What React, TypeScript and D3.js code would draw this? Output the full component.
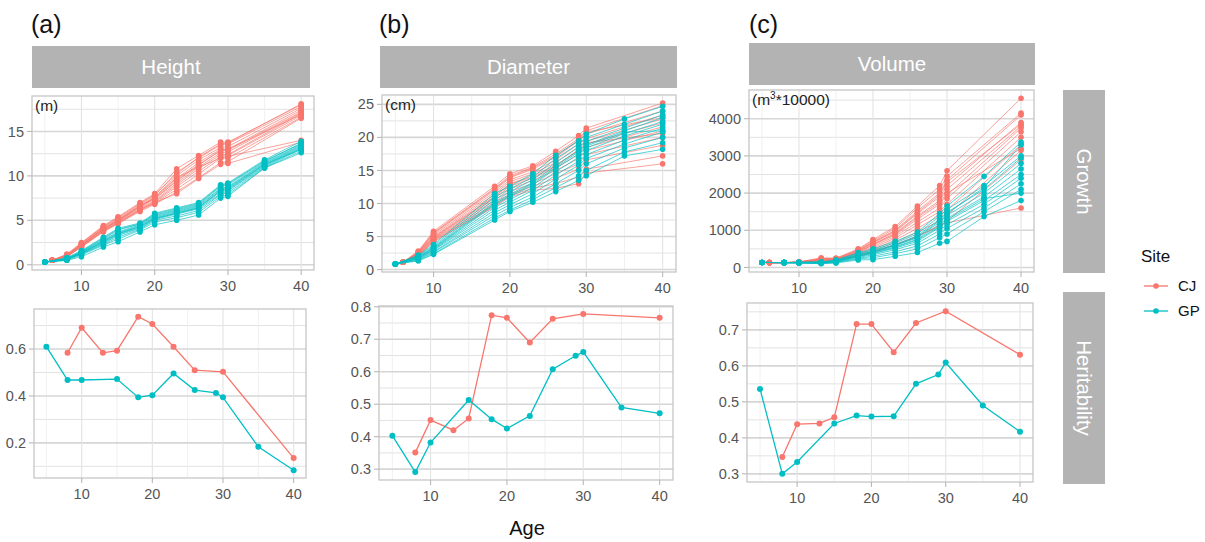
import * as d3 from 'd3';

const CJ_COLOR = '#F8766D';
const GP_COLOR = '#00BFC4';
const FONT = '"Liberation Sans", Arial, Helvetica, sans-serif';

// ---- Growth: one row per family, values at the ages listed above them ----
const heightAgesCJ = [6, 8, 10, 13, 15, 18, 20, 23, 26, 29, 30, 40];
const heightCJ = [
  [0.5, 1.2, 2.5, 4.4, 5.4, 7.0, 8.0, 10.8, 12.3, 13.8, 13.8, 18.0],
  [0.5, 1.1, 2.4, 4.3, 5.2, 6.8, 7.8, 10.4, 12.0, 13.5, 13.6, 17.8],
  [0.5, 1.1, 2.3, 4.2, 5.1, 6.7, 7.6, 10.0, 11.8, 13.2, 13.3, 17.6],
  [0.5, 1.0, 2.3, 4.1, 5.0, 6.6, 7.5, 9.7, 11.5, 13.0, 13.0, 17.4],
  [0.5, 1.0, 2.2, 4.0, 4.9, 6.5, 7.4, 9.5, 11.3, 12.8, 12.9, 17.2],
  [0.5, 1.0, 2.2, 4.0, 4.9, 6.4, 7.2, 9.2, 11.0, 12.6, 12.7, 17.1],
  [0.5, 0.9, 2.1, 3.9, 4.8, 6.3, 7.1, 9.0, 10.8, 12.4, 12.4, 17.0],
  [0.5, 0.9, 2.1, 3.8, 4.7, 6.2, 7.0, 8.8, 10.5, 12.2, 12.3, 16.8],
  [0.5, 1.0, 2.0, 3.8, 4.7, 6.1, 6.9, 8.5, 10.2, 12.0, 12.0, 16.6],
  [0.5, 0.9, 2.0, 3.7, 4.6, 6.0, 6.8, 8.2, 9.8, 11.5, 11.6, 16.5],
  [0.5, 1.0, 2.2, 4.0, 5.0, 6.6, 7.6, 9.8, 11.0, 12.0, 12.2, 14.0],
  [0.5, 0.9, 2.0, 3.8, 4.7, 6.2, 7.0, 8.0, 9.7, 11.3, 11.4, 13.8],
  [0.5, 1.1, 2.4, 4.3, 5.3, 6.9, 7.9, 10.2, 12.1, 13.6, 13.7, 18.1],
  [0.5, 1.0, 2.2, 4.1, 5.0, 6.6, 7.4, 9.4, 11.2, 12.9, 13.0, 16.9],
];
const heightAgesGP = [5, 8, 10, 13, 15, 18, 20, 23, 26, 29, 30, 35, 40];
const heightGP = [
  [0.3, 0.8, 1.6, 3.1, 4.1, 4.7, 5.8, 6.4, 7.0, 9.0, 9.2, 11.8, 13.9],
  [0.3, 0.7, 1.5, 2.9, 3.9, 4.6, 5.6, 6.2, 6.8, 8.8, 9.0, 11.6, 13.7],
  [0.3, 0.7, 1.4, 2.8, 3.7, 4.5, 5.5, 6.1, 6.7, 8.6, 8.8, 11.5, 13.5],
  [0.3, 0.7, 1.4, 2.7, 3.6, 4.4, 5.4, 6.0, 6.6, 8.5, 8.7, 11.4, 13.4],
  [0.3, 0.6, 1.3, 2.6, 3.5, 4.3, 5.3, 5.9, 6.5, 8.3, 8.5, 11.3, 13.3],
  [0.3, 0.6, 1.3, 2.5, 3.4, 4.2, 5.2, 5.8, 6.4, 8.2, 8.4, 11.2, 13.2],
  [0.3, 0.6, 1.2, 2.4, 3.3, 4.1, 5.1, 5.7, 6.3, 8.0, 8.3, 11.1, 13.1],
  [0.3, 0.6, 1.2, 2.3, 3.1, 4.0, 5.0, 5.5, 6.1, 7.9, 8.1, 11.0, 13.0],
  [0.3, 0.5, 1.1, 2.2, 2.9, 3.9, 4.8, 5.3, 5.9, 7.7, 7.9, 10.9, 12.8],
  [0.3, 0.5, 0.9, 2.0, 2.6, 3.7, 4.5, 5.0, 5.6, 7.5, 7.7, 10.9, 12.6],
  [0.3, 0.7, 1.5, 3.0, 4.0, 4.6, 5.7, 6.3, 6.9, 8.9, 9.1, 11.7, 13.6],
  [0.3, 0.6, 1.3, 2.6, 3.5, 4.3, 5.2, 5.8, 6.4, 8.4, 8.6, 11.3, 13.0],
];

const diamAgesCJ = [6, 8, 10, 18, 20, 23, 26, 29, 30, 40];
const diamCJ = [
  [1.1, 2.8, 5.8, 12.6, 14.5, 15.7, 17.9, 20.3, 21.4, 25.2],
  [1.1, 2.7, 5.6, 12.3, 14.2, 15.5, 17.5, 19.8, 21.0, 24.8],
  [1.1, 2.6, 5.4, 12.0, 13.9, 15.2, 17.0, 19.5, 20.5, 24.0],
  [1.1, 2.5, 5.2, 11.7, 13.6, 14.8, 16.6, 19.0, 19.8, 23.4],
  [1.1, 2.5, 5.0, 11.4, 13.3, 14.5, 16.2, 18.6, 19.4, 22.8],
  [1.1, 2.4, 4.9, 11.1, 13.0, 14.2, 15.8, 18.0, 19.0, 22.2],
  [1.1, 2.3, 4.7, 10.8, 12.6, 13.8, 15.4, 17.4, 18.5, 21.6],
  [1.1, 2.3, 4.6, 10.5, 12.2, 13.5, 15.0, 16.8, 18.0, 21.0],
  [1.1, 2.2, 4.5, 10.2, 11.8, 13.0, 14.5, 16.0, 17.4, 20.0],
  [1.1, 2.1, 4.4, 9.9, 11.4, 12.6, 13.8, 15.2, 16.6, 18.8],
  [1.1, 2.1, 4.3, 9.7, 11.2, 12.3, 13.0, 14.0, 15.2, 17.2],
  [1.1, 2.0, 4.2, 9.5, 11.0, 12.0, 12.3, 13.0, 14.6, 16.0],
  [1.1, 2.6, 5.5, 12.2, 14.0, 15.4, 17.2, 19.6, 20.8, 23.0],
  [1.1, 2.4, 4.8, 11.0, 12.9, 14.0, 15.6, 18.2, 19.2, 20.6],
];
const diamAgesGP = [5, 8, 10, 18, 20, 23, 26, 29, 30, 35, 40];
const diamGP = [
  [0.85, 2.2, 3.8, 11.5, 12.6, 14.5, 17.3, 19.5, 20.5, 22.8, 24.7],
  [0.85, 2.1, 3.6, 11.0, 12.2, 14.0, 16.8, 19.0, 20.0, 22.0, 24.0],
  [0.85, 2.0, 3.4, 10.6, 11.8, 13.6, 16.2, 18.5, 19.4, 21.4, 23.4],
  [0.85, 1.9, 3.3, 10.2, 11.4, 13.2, 15.8, 18.0, 18.9, 21.0, 23.0],
  [0.85, 1.8, 3.1, 9.8, 11.0, 12.8, 15.3, 17.5, 18.4, 20.6, 22.4],
  [0.85, 1.7, 3.0, 9.4, 10.6, 12.4, 14.8, 17.0, 18.0, 20.2, 22.0],
  [0.85, 1.7, 2.9, 9.0, 10.2, 12.0, 14.3, 16.4, 17.4, 19.6, 21.4],
  [0.85, 1.6, 2.7, 8.6, 9.8, 11.5, 13.7, 15.8, 16.8, 19.0, 20.8],
  [0.85, 1.5, 2.6, 8.2, 9.4, 11.0, 13.0, 15.0, 16.0, 18.4, 20.0],
  [0.85, 1.4, 2.4, 7.8, 9.0, 10.6, 12.4, 14.2, 15.0, 17.8, 19.2],
  [0.85, 1.3, 2.3, 7.5, 8.8, 10.2, 11.8, 13.5, 14.2, 17.2, 18.2],
  [0.85, 1.9, 3.2, 10.0, 11.2, 13.0, 15.5, 17.8, 18.7, 20.8, 21.0],
];

const volAgesCJ = [6, 8, 10, 13, 15, 18, 20, 23, 26, 29, 30, 40];
const volCJ = [
  [130, 130, 150, 260, 250, 500, 750, 1100, 1650, 2200, 2600, 4550],
  [130, 130, 145, 240, 240, 480, 720, 1050, 1600, 2100, 2450, 4150],
  [130, 130, 145, 230, 230, 460, 690, 1000, 1520, 2000, 2350, 4100],
  [130, 130, 140, 220, 220, 440, 660, 960, 1450, 1900, 2200, 3900],
  [130, 130, 140, 210, 215, 420, 630, 920, 1380, 1800, 2100, 3800],
  [130, 130, 140, 200, 210, 400, 600, 880, 1300, 1700, 1950, 3750],
  [130, 130, 135, 190, 205, 380, 560, 840, 1220, 1600, 1850, 3650],
  [130, 130, 135, 180, 200, 360, 520, 790, 1150, 1500, 1700, 3500],
  [130, 130, 135, 170, 190, 340, 480, 740, 1050, 1400, 1550, 3300],
  [130, 130, 130, 160, 185, 320, 440, 680, 950, 1250, 1400, 3150],
  [130, 130, 130, 150, 180, 300, 400, 600, 850, 1100, 1250, 2900],
  [130, 130, 130, 160, 180, 310, 420, 620, 820, 1150, 1200, 1600],
  [130, 130, 140, 200, 210, 410, 620, 900, 1350, 1750, 2000, 3200],
  [130, 130, 145, 220, 225, 450, 680, 980, 1480, 1950, 2300, 3850],
];
const volAgesGP = [5, 8, 10, 13, 15, 18, 20, 23, 26, 29, 30, 35, 40];
const volGP = [
  [135, 130, 140, 150, 200, 400, 500, 700, 950, 1450, 1650, 2450, 3370],
  [135, 130, 135, 145, 190, 380, 470, 660, 900, 1380, 1560, 2200, 3000],
  [135, 130, 135, 140, 180, 350, 440, 620, 850, 1300, 1480, 2100, 2950],
  [135, 130, 130, 135, 170, 330, 420, 590, 800, 1220, 1400, 2000, 2800],
  [135, 130, 130, 130, 165, 310, 400, 560, 760, 1150, 1320, 1900, 2650],
  [135, 130, 130, 125, 160, 290, 370, 520, 700, 1080, 1240, 1800, 2500],
  [135, 130, 125, 120, 150, 270, 340, 480, 650, 1000, 1150, 1700, 2400],
  [135, 130, 125, 115, 140, 250, 300, 420, 580, 900, 1050, 1600, 2250],
  [135, 130, 120, 110, 130, 230, 260, 370, 500, 800, 900, 1500, 2100],
  [135, 130, 120, 100, 120, 200, 210, 300, 400, 650, 700, 1370, 1800],
  [135, 130, 130, 130, 160, 300, 380, 540, 740, 1100, 1280, 1850, 2000],
  [135, 130, 135, 140, 175, 340, 430, 600, 820, 1260, 1450, 2150, 3300],
];

// ---- Heritability ----
const herHeightAgesCJ = [8, 10, 13, 15, 18, 20, 23, 26, 30, 40];
const herHeightCJ = [0.584, 0.691, 0.584, 0.593, 0.738, 0.707, 0.61, 0.51, 0.503, 0.135];
const herHeightAgesGP = [5, 8, 10, 15, 18, 20, 23, 26, 29, 30, 35, 40];
const herHeightGP = [0.61, 0.468, 0.468, 0.472, 0.394, 0.403, 0.496, 0.425, 0.413, 0.394, 0.183, 0.083];

const herDiamAgesCJ = [8, 10, 13, 15, 18, 20, 23, 26, 30, 40];
const herDiamCJ = [0.351, 0.451, 0.42, 0.456, 0.774, 0.766, 0.69, 0.763, 0.778, 0.766];
const herDiamAgesGP = [5, 8, 10, 15, 18, 20, 23, 26, 29, 30, 35, 40];
const herDiamGP = [0.403, 0.291, 0.382, 0.513, 0.454, 0.425, 0.464, 0.608, 0.649, 0.661, 0.49, 0.472];

const herVolAgesCJ = [8, 10, 13, 15, 18, 20, 23, 26, 30, 40];
const herVolCJ = [0.347, 0.438, 0.44, 0.457, 0.716, 0.716, 0.638, 0.719, 0.752, 0.631];
const herVolAgesGP = [5, 8, 10, 15, 18, 20, 23, 26, 29, 30, 35, 40];
const herVolGP = [0.536, 0.3, 0.333, 0.44, 0.462, 0.459, 0.46, 0.55, 0.576, 0.609, 0.49, 0.417];

const ageTicks = [10, 20, 30, 40];
const heightTicks = [0, 5, 10, 15];
const diamTicks = [0, 5, 10, 15, 20, 25];
const volTicks = [0, 1000, 2000, 3000, 4000];
const herHeightTicks = [0.2, 0.4, 0.6];
const herDiamTicks = [0.3, 0.4, 0.5, 0.6, 0.7, 0.8];
const herVolTicks = [0.3, 0.4, 0.5, 0.6, 0.7];

type Box = { left: number; right: number; top: number; bottom: number };
type Group = { color: string; ages: number[]; rows: number[][] };

// ggplot style 5% expansion
const expand = (vals: number[]): [number, number] => {
  const [lo, hi] = d3.extent(vals) as [number, number];
  const pad = (hi - lo) * 0.05;
  return [lo - pad, hi + pad];
};

const minorOf = (major: number[], dom: [number, number]) => {
  const step = major[1] - major[0];
  const out: number[] = [];
  for (let v = major[0] - step / 2; v <= major[major.length - 1] + step / 2 + 1e-9; v += step) {
    if (v >= dom[0] && v <= dom[1]) out.push(v);
  }
  return out;
};

function Panel({
  box,
  groups,
  yTicks,
  fmt,
  growth,
  unit,
}: {
  box: Box;
  groups: Group[];
  yTicks: number[];
  fmt: (v: number) => string;
  growth: boolean;
  unit?: React.ReactNode;
}) {
  const xDom = expand([5, 40]);
  const x = d3.scaleLinear().domain(xDom).range([box.left, box.right]);
  const yDom = expand(groups.flatMap((g) => g.rows.flat()));
  const y = d3.scaleLinear().domain(yDom).range([box.bottom, box.top]);
  const line = d3
    .line<[number, number]>()
    .x((d) => x(d[0]))
    .y((d) => y(d[1]));
  const yMinor = minorOf(yTicks, yDom);
  const xMinor = minorOf(ageTicks, xDom);
  const tickCol = '#b8b8b8';

  return (
    <g>
      <rect x={box.left} y={box.top} width={box.right - box.left} height={box.bottom - box.top} fill="white" />
      {yMinor.map((v) => (
        <line key={'ym' + v} x1={box.left} x2={box.right} y1={y(v)} y2={y(v)} stroke="#e2e2e2" strokeWidth={1} />
      ))}
      {xMinor.map((v) => (
        <line key={'xm' + v} y1={box.top} y2={box.bottom} x1={x(v)} x2={x(v)} stroke="#ececec" strokeWidth={0.8} />
      ))}
      {yTicks.map((v) => (
        <line key={'yM' + v} x1={box.left} x2={box.right} y1={y(v)} y2={y(v)} stroke="#d6d6d6" strokeWidth={1.6} />
      ))}
      {ageTicks.map((v) => (
        <line key={'xM' + v} y1={box.top} y2={box.bottom} x1={x(v)} x2={x(v)} stroke="#e3e3e3" strokeWidth={1.1} />
      ))}
      {groups.map((g, gi) => (
        <g key={gi}>
          {g.rows.map((r, ri) => (
            <path
              key={ri}
              d={line(g.ages.map((a, i) => [a, r[i]] as [number, number])) || ''}
              fill="none"
              stroke={g.color}
              strokeWidth={growth ? 0.9 : 1.3}
              strokeOpacity={growth ? 0.75 : 1}
            />
          ))}
          {g.rows.map((r, ri) =>
            g.ages.map((a, i) => (
              <circle key={ri + '-' + i} cx={x(a)} cy={y(r[i])} r={growth ? 2.8 : 3} fill={g.color} />
            ))
          )}
        </g>
      ))}
      <rect
        x={box.left}
        y={box.top}
        width={box.right - box.left}
        height={box.bottom - box.top}
        fill="none"
        stroke="#c6c6c6"
        strokeWidth={1.3}
      />
      {yTicks.map((v) => (
        <g key={'yt' + v}>
          <line x1={box.left - 5} x2={box.left} y1={y(v)} y2={y(v)} stroke={tickCol} strokeWidth={1.1} />
          <text x={box.left - 8} y={y(v)} dy="0.35em" textAnchor="end" fontSize={14.5} fill="#555" fontFamily={FONT}>
            {fmt(v)}
          </text>
        </g>
      ))}
      {ageTicks.map((v) => (
        <g key={'xt' + v}>
          <line x1={x(v)} x2={x(v)} y1={box.bottom} y2={box.bottom + 5} stroke={tickCol} strokeWidth={1.1} />
          <text x={x(v)} y={box.bottom + 21} textAnchor="middle" fontSize={14.5} fill="#555" fontFamily={FONT}>
            {v}
          </text>
        </g>
      ))}
      {unit && (
        <text x={box.left + 3} y={box.top + 15} fontSize={15.5} fill="#222" fontFamily={FONT}>
          {unit}
        </text>
      )}
    </g>
  );
}

function Strip({ x0, x1, y0, y1, label }: { x0: number; x1: number; y0: number; y1: number; label: string }) {
  return (
    <g>
      <rect x={x0} y={y0} width={x1 - x0} height={y1 - y0} fill="#b3b3b3" />
      <text x={(x0 + x1) / 2} y={(y0 + y1) / 2} dy="0.36em" textAnchor="middle" fontSize={20.5} fill="white" fontFamily={FONT}>
        {label}
      </text>
    </g>
  );
}

function VStrip({ x0, x1, y0, y1, label }: { x0: number; x1: number; y0: number; y1: number; label: string }) {
  const cx = (x0 + x1) / 2;
  const cy = (y0 + y1) / 2;
  return (
    <g>
      <rect x={x0} y={y0} width={x1 - x0} height={y1 - y0} fill="#b3b3b3" />
      <text
        x={cx}
        y={cy}
        dy="0.36em"
        textAnchor="middle"
        fontSize={20.5}
        fill="white"
        fontFamily={FONT}
        transform={`rotate(90 ${cx} ${cy})`}
      >
        {label}
      </text>
    </g>
  );
}

const fmtInt = (v: number) => String(v);
const fmt1 = (v: number) => v.toFixed(1);

export default function App() {
  const cj = (ages: number[], rows: number[][]): Group => ({ color: CJ_COLOR, ages, rows });
  const gp = (ages: number[], rows: number[][]): Group => ({ color: GP_COLOR, ages, rows });

  return (
    <svg width={1205} height={542} style={{ position: 'absolute', left: 0, top: 0, background: 'white' }}>
      <rect width={1205} height={542} fill="white" />
      {/* panel letters */}
      <text x={31} y={33} fontSize={25} fill="#111" fontFamily={FONT}>(a)</text>
      <text x={379} y={33} fontSize={25} fill="#111" fontFamily={FONT}>(b)</text>
      <text x={749} y={33} fontSize={25} fill="#111" fontFamily={FONT}>(c)</text>

      <Strip x0={32} x1={310} y0={46} y1={88} label="Height" />
      <Strip x0={380} x1={677} y0={46} y1={88} label="Diameter" />
      <Strip x0={749} x1={1035} y0={43} y1={85} label="Volume" />

      <Panel
        box={{ left: 32, right: 314, top: 96, bottom: 270 }}
        groups={[cj(heightAgesCJ, heightCJ), gp(heightAgesGP, heightGP)]}
        yTicks={heightTicks}
        fmt={fmtInt}
        growth
        unit="(m)"
      />
      <Panel
        box={{ left: 382, right: 676, top: 95, bottom: 272 }}
        groups={[cj(diamAgesCJ, diamCJ), gp(diamAgesGP, diamGP)]}
        yTicks={diamTicks}
        fmt={fmtInt}
        growth
        unit="(cm)"
      />
      <Panel
        box={{ left: 749, right: 1034, top: 90, bottom: 272 }}
        groups={[cj(volAgesCJ, volCJ), gp(volAgesGP, volGP)]}
        yTicks={volTicks}
        fmt={fmtInt}
        growth
        unit={
          <>
            (m
            <tspan dy={-6} fontSize={10}>3</tspan>
            <tspan dy={6}>*10000)</tspan>
          </>
        }
      />

      <Panel
        box={{ left: 34, right: 306, top: 309, bottom: 478 }}
        groups={[cj(herHeightAgesCJ, [herHeightCJ]), gp(herHeightAgesGP, [herHeightGP])]}
        yTicks={herHeightTicks}
        fmt={fmt1}
        growth={false}
      />
      <Panel
        box={{ left: 379, right: 673, top: 306, bottom: 480 }}
        groups={[cj(herDiamAgesCJ, [herDiamCJ]), gp(herDiamAgesGP, [herDiamGP])]}
        yTicks={herDiamTicks}
        fmt={fmt1}
        growth={false}
      />
      <Panel
        box={{ left: 747, right: 1033, top: 303, bottom: 482 }}
        groups={[cj(herVolAgesCJ, [herVolCJ]), gp(herVolAgesGP, [herVolGP])]}
        yTicks={herVolTicks}
        fmt={fmt1}
        growth={false}
      />

      <VStrip x0={1063} x1={1105} y0={90} y1={273} label="Growth" />
      <VStrip x0={1063} x1={1105} y0={292} y1={484} label="Heritability" />

      {/* legend */}
      <text x={1141} y={262} fontSize={17} fill="#111" fontFamily={FONT}>Site</text>
      {[
        { label: 'CJ', color: CJ_COLOR, y: 286 },
        { label: 'GP', color: GP_COLOR, y: 311 },
      ].map((d) => (
        <g key={d.label}>
          <line x1={1144} x2={1168} y1={d.y} y2={d.y} stroke={d.color} strokeWidth={1.3} />
          <circle cx={1156} cy={d.y} r={2.8} fill={d.color} />
          <text x={1178} y={d.y} dy="0.36em" fontSize={15} fill="#111" fontFamily={FONT}>
            {d.label}
          </text>
        </g>
      ))}

      <text x={527} y={535} textAnchor="middle" fontSize={20} fill="#111" fontFamily={FONT}>
        Age
      </text>
    </svg>
  );
}
